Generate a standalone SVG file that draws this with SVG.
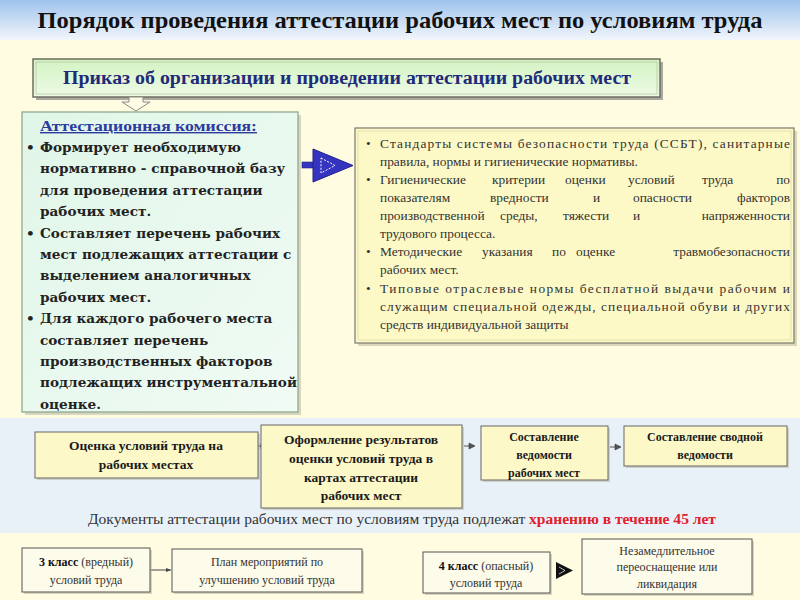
<svg xmlns="http://www.w3.org/2000/svg" width="800" height="600" viewBox="0 0 800 600">
<defs>
<linearGradient id="hdr" x1="0" y1="0" x2="0" y2="1">
<stop offset="0" stop-color="#9fc3ee"/>
<stop offset="1" stop-color="#f2f6fb"/>
</linearGradient>
<linearGradient id="grn" x1="0" y1="0" x2="0" y2="1">
<stop offset="0" stop-color="#d3f3c2"/>
<stop offset="1" stop-color="#eefbe6"/>
</linearGradient>
<linearGradient id="com" x1="0" y1="0" x2="1" y2="1">
<stop offset="0" stop-color="#e0f6e8"/>
<stop offset="1" stop-color="#f0fbf4"/>
</linearGradient>
<marker id="sm" markerWidth="8" markerHeight="8" refX="6" refY="4" orient="auto" markerUnits="userSpaceOnUse">
<path d="M1,1 L7,4 L1,7 Z" fill="#555" stroke="#333" stroke-width="0.6"/>
</marker>
<marker id="thin" markerWidth="6" markerHeight="6" refX="5" refY="3" orient="auto" markerUnits="userSpaceOnUse">
<path d="M0,1 L5,3 L0,5 Z" fill="#444"/>
</marker>
</defs>
<style>
.t{font-family:"Liberation Serif","Times New Roman",serif}
.ds{font-family:"DejaVu Serif","Liberation Serif",serif}
.box{fill:#fdf8c8;stroke:#666;stroke-width:1}
.lbox{fill:#fdfbea;stroke:#555;stroke-width:1}
.sh{fill:#b9b6a0;opacity:0.55}
.fl{font-size:13.5px;font-weight:bold;fill:#1a1a1a;text-anchor:middle}
.fs{font-size:12px;font-weight:bold;fill:#1a1a1a;text-anchor:middle}
.rb{font-size:13.4px;fill:#333}
.cm{font-size:13.6px;font-weight:bold;fill:#222}
.bt{font-size:12px;fill:#333;text-anchor:middle}
</style>
<rect width="800" height="600" fill="#fffce2"/>
<rect width="800" height="40" fill="url(#hdr)"/>
<rect x="0" y="418" width="800" height="115" fill="#e9f1f8"/>
<text class="t" x="400" y="28" text-anchor="middle" font-size="23.5" font-weight="bold" fill="#111" textLength="725" lengthAdjust="spacingAndGlyphs">Порядок проведения аттестации рабочих мест по условиям труда</text>

<g id="prikaz">
<rect x="36" y="62" width="627" height="38" fill="#a9a9a0"/>
<rect x="33" y="59" width="627" height="38" fill="url(#grn)" stroke="#6d6d60" stroke-width="1.5"/>
<rect x="36" y="62" width="621" height="32" fill="none" stroke="#b8c8a8" stroke-width="0.8"/>
<text class="t" x="347" y="84" text-anchor="middle" font-size="18" font-weight="bold" fill="#1f2a78" textLength="568" lengthAdjust="spacingAndGlyphs">Приказ об организации и проведении аттестации рабочих мест</text>
</g>

<g id="connectors">
<path d="M129,97 L143,97 L143,102 L150,102 L136,111 L122,102 L129,102 Z" fill="#fffce6" stroke="#8a8a80" stroke-width="1"/>
<rect x="302" y="162" width="16" height="6" fill="#3434c0" stroke="#22228a" stroke-width="0.6"/>
<path d="M313,149 L353,165.5 L313,182 Z" fill="#3434c0" stroke="#22228a" stroke-width="1"/>
<path d="M321,158 L335,165.5 L321,173 Z" fill="none" stroke="#ffffff" stroke-width="1" stroke-dasharray="2,1.5"/>
<line x1="256" y1="446" x2="266" y2="446" stroke="#555" stroke-width="1.4" marker-end="url(#sm)"/>
<line x1="464" y1="446" x2="474" y2="446" stroke="#555" stroke-width="1" marker-end="url(#sm)"/>
<line x1="610" y1="447" x2="620" y2="447" stroke="#555" stroke-width="1" marker-end="url(#sm)"/>
<line x1="150" y1="570" x2="171" y2="570" stroke="#444" stroke-width="1" marker-end="url(#thin)"/>
<path d="M556,562 L573,570.5 L556,579 Z" fill="#111"/>
<path d="M559,567 L565,570.5 L559,574" fill="none" stroke="#fff" stroke-width="0.7"/>
</g>

<g id="commission">
<rect x="25" y="115" width="276" height="300" class="sh"/>
<rect x="22" y="112" width="276" height="300" fill="url(#com)" stroke="#8faa92" stroke-width="1.3"/>
<text class="t" x="40" y="131" font-size="14" font-weight="bold" fill="#2c3aa0" text-decoration="underline" textLength="217" lengthAdjust="spacingAndGlyphs">Аттестационная комиссия:</text>
<g class="ds cm">
<text x="26" y="152">•</text><text x="40" y="152">Формирует необходимую</text>
<text x="40" y="173.4">нормативно - справочной базу</text>
<text x="40" y="194.8">для проведения аттестации</text>
<text x="40" y="216.2">рабочих мест.</text>
<text x="26" y="237.6">•</text><text x="40" y="237.6">Составляет перечень рабочих</text>
<text x="40" y="259">мест подлежащих аттестации с</text>
<text x="40" y="280.4">выделением аналогичных</text>
<text x="40" y="301.8">рабочих мест.</text>
<text x="26" y="323.2">•</text><text x="40" y="323.2">Для каждого рабочего места</text>
<text x="40" y="344.6">составляет перечень</text>
<text x="40" y="366">производственных факторов</text>
<text x="40" y="387.4">подлежащих инструментальной</text>
<text x="40" y="408.8">оценке.</text>
</g>
</g>

<g id="standards">
<rect x="358" y="131" width="439" height="215" class="sh"/>
<rect x="355" y="128" width="439" height="215" fill="#fdf9c6" stroke="#7a7a70" stroke-width="1.2"/>
<rect x="358" y="131" width="433" height="209" fill="none" stroke="#d8d4a8" stroke-width="0.7"/>
<g class="t rb">
<text x="366" y="148">•</text>
<text x="380" y="148" textLength="410" lengthAdjust="spacing">Стандарты системы безопасности труда (ССБТ), санитарные</text>
<text x="380" y="166">правила, нормы и гигиенические нормативы.</text>
<text x="366" y="184">•</text>
<text x="380" y="184">Гигиенические</text><text x="492" y="184">критерии</text><text x="565" y="184">оценки</text><text x="628" y="184">условий</text><text x="702" y="184">труда</text><text x="790" y="184" text-anchor="end">по</text>
<text x="380" y="202">показателям</text><text x="490" y="202">вредности</text><text x="593" y="202">и</text><text x="633" y="202">опасности</text><text x="790" y="202" text-anchor="end">факторов</text>
<text x="380" y="220">производственной</text><text x="500" y="220">среды,</text><text x="563" y="220">тяжести</text><text x="633" y="220">и</text><text x="790" y="220" text-anchor="end">напряженности</text>
<text x="380" y="238">трудового процесса.</text>
<text x="366" y="256">•</text>
<text x="380" y="256">Методические</text><text x="482" y="256">указания</text><text x="552" y="256">по</text><text x="576" y="256">оценке</text><text x="790" y="256" text-anchor="end">травмобезопасности</text>
<text x="380" y="274">рабочих  мест.</text>
<text x="366" y="293">•</text>
<text x="380" y="293" textLength="410" lengthAdjust="spacing">Типовые отраслевые нормы бесплатной выдачи рабочим и</text>
<text x="380" y="311" textLength="410" lengthAdjust="spacing">служащим специальной одежды, специальной обуви и других</text>
<text x="380" y="329">средств индивидуальной защиты</text>
</g>
</g>

<g id="ocenka">
<rect x="37" y="434" width="223" height="46" class="sh"/>
<rect x="35" y="432" width="223" height="46" class="box"/>
<text class="t fl" x="146" y="450">Оценка условий труда на</text>
<text class="t fl" x="146" y="469">рабочих местах</text>
</g>
<g id="oformlenie">
<rect x="263" y="427" width="201" height="83" class="sh"/>
<rect x="261" y="425" width="201" height="83" class="box"/>
<text class="t fl" x="361" y="444">Оформление результатов</text>
<text class="t fl" x="361" y="463">оценки условий труда в</text>
<text class="t fl" x="361" y="482">картах аттестации</text>
<text class="t fl" x="361" y="500">рабочих мест</text>
</g>
<g id="vedomost">
<rect x="483" y="428" width="127" height="54" class="sh"/>
<rect x="481" y="426" width="127" height="54" class="box"/>
<text class="t fs" x="544" y="441">Составление</text>
<text class="t fs" x="544" y="459">ведомости</text>
<text class="t fs" x="544" y="477">рабочих мест</text>
</g>
<g id="svodnaya">
<rect x="626" y="428" width="163" height="40" class="sh"/>
<rect x="624" y="426" width="163" height="40" class="box"/>
<text class="t fs" x="705" y="441" font-size="11.5">Составление сводной</text>
<text class="t fs" x="705" y="459" font-size="11.5">ведомости</text>
</g>

<text class="t" x="88" y="524" font-size="14" fill="#333" textLength="628" lengthAdjust="spacingAndGlyphs">Документы аттестации рабочих мест по условиям труда  подлежат <tspan font-weight="bold" fill="#e0202a">хранению в течение 45 лет</tspan></text>

<g id="klass3">
<rect x="24" y="550" width="128" height="44" class="sh"/>
<rect x="22" y="548" width="128" height="44" class="lbox"/>
<text class="t bt" x="86" y="566"><tspan font-weight="bold" fill="#111">3 класс</tspan> (вредный)</text>
<text class="t bt" x="86" y="584">условий труда</text>
</g>
<g id="plan">
<rect x="174" y="551" width="190" height="43" class="sh"/>
<rect x="172" y="549" width="190" height="43" class="lbox"/>
<text class="t bt" x="267" y="566">План мероприятий по</text>
<text class="t bt" x="267" y="584">улучшению условий труда</text>
</g>
<g id="klass4">
<rect x="425" y="554" width="127" height="41" class="sh"/>
<rect x="423" y="552" width="127" height="41" class="lbox"/>
<text class="t bt" x="486" y="570"><tspan font-weight="bold" fill="#111">4 класс</tspan> (опасный)</text>
<text class="t bt" x="486" y="587">условий труда</text>
</g>
<g id="likvidacia">
<rect x="584" y="541" width="170" height="55" class="sh"/>
<rect x="582" y="539" width="170" height="55" class="lbox"/>
<text class="t bt" x="667" y="555">Незамедлительное</text>
<text class="t bt" x="667" y="571">переоснащение или</text>
<text class="t bt" x="667" y="588">ликвидация</text>
</g>
</svg>
